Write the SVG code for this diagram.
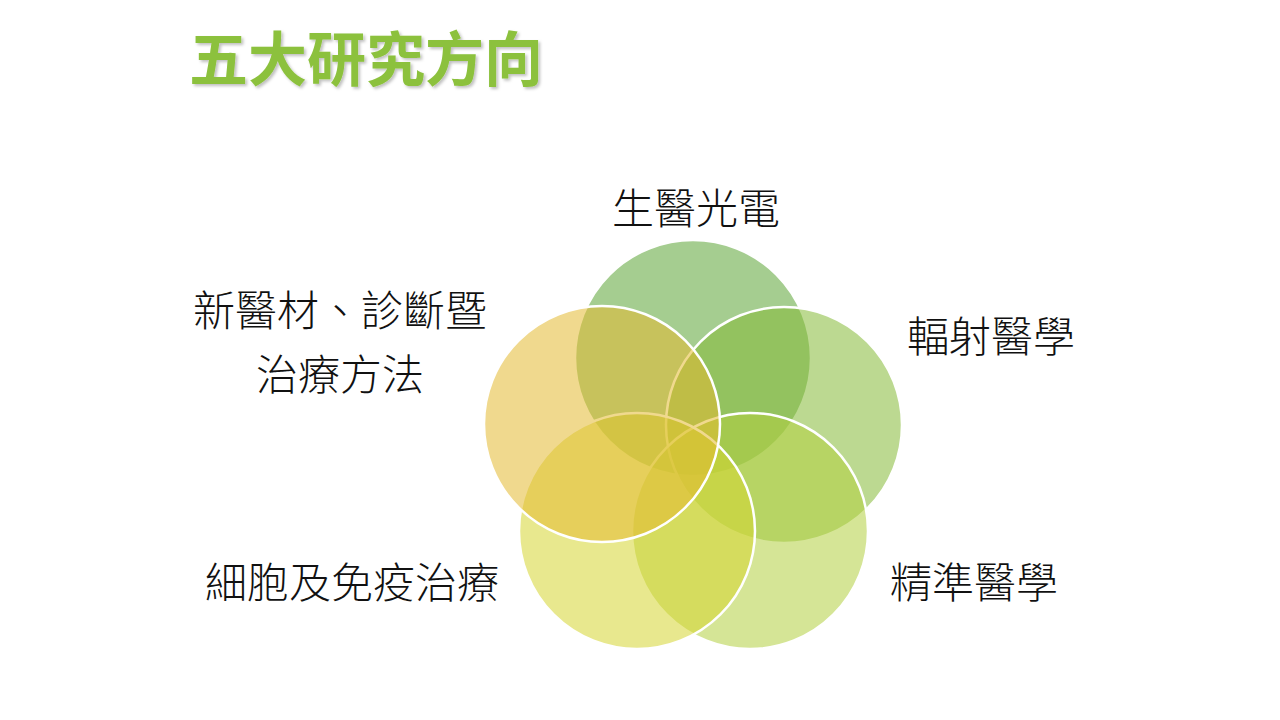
<svg xmlns="http://www.w3.org/2000/svg" width="1280" height="720" viewBox="0 0 1280 720">
<defs>
<style>
.title{font-family:"Noto Sans CJK TC","Noto Sans CJK SC",sans-serif;font-weight:700;font-size:59px;fill:#8cc13e}
.lbl{font-family:"Noto Sans CJK TC","Noto Sans CJK SC",sans-serif;font-weight:300;font-size:42px;fill:#111}
.c{stroke:#ffffff;stroke-width:2.5;fill-opacity:0.55}
</style>
<filter id="sh" x="-5%" y="-20%" width="110%" height="140%">
<feDropShadow dx="2" dy="2" stdDeviation="1.5" flood-color="#000" flood-opacity="0.25"/>
</filter>
</defs>
<rect width="1280" height="720" fill="#ffffff"/>
<g id="title"><text class="title" x="189" y="81" filter="url(#sh)">五大研究方向</text></g>
<g id="circles">
<g id="n1"><circle class="c" cx="693" cy="358" r="118" fill="#5ba435" stroke="none"/></g>
<g id="n2"><circle class="c" cx="784" cy="425" r="118" fill="#85ba37"/></g>
<g id="n3"><circle class="c" cx="750" cy="531" r="118" fill="#b3d040"/></g>
<g id="n4"><circle class="c" cx="637" cy="531" r="118" fill="#d5d532"/></g>
<g id="n5"><circle class="c" cx="602" cy="424" r="118" fill="#e4ba32"/></g>
</g>
<g id="labels">
<g id="l1"><text class="lbl" x="696" y="224" text-anchor="middle">生醫光電</text></g>
<g id="l2"><text class="lbl" x="991" y="352" text-anchor="middle">輻射醫學</text></g>
<g id="l3"><text class="lbl" x="974" y="598" text-anchor="middle">精準醫學</text></g>
<g id="l4"><text class="lbl" x="352" y="598" text-anchor="middle">細胞及免疫治療</text></g>
<g id="l5"><text class="lbl" x="340" y="326" text-anchor="middle">新醫材、診斷暨</text><text class="lbl" x="340" y="390" text-anchor="middle">治療方法</text></g>
</g>
</svg>
